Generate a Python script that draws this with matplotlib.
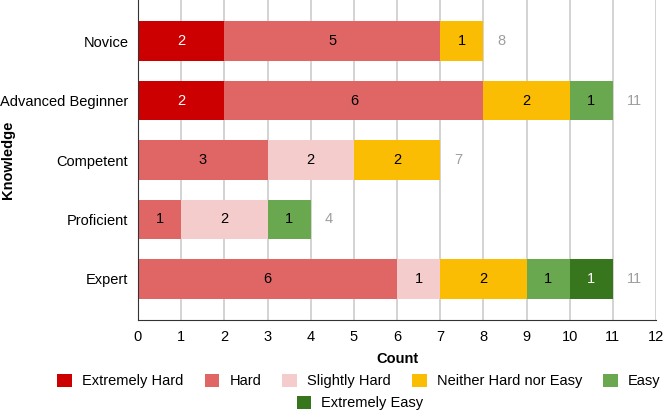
import matplotlib.pyplot as plt
import numpy as np

plt.rcParams['font.family'] = ['Liberation Sans', 'DejaVu Sans']

levels = ['Novice', 'Advanced Beginner', 'Competent', 'Proficient', 'Expert']
ratings = ['Extremely Hard', 'Hard', 'Slightly Hard', 'Neither Hard nor Easy',
           'Easy', 'Extremely Easy']
counts = {
    'Extremely Hard':        [2, 2, 0, 0, 0],
    'Hard':                  [5, 6, 3, 1, 6],
    'Slightly Hard':         [0, 0, 2, 2, 1],
    'Neither Hard nor Easy': [1, 2, 2, 0, 2],
    'Easy':                  [0, 1, 0, 1, 1],
    'Extremely Easy':        [0, 0, 0, 0, 1],
}
colors = ['#cc0000', '#e06666', '#f4cccc', '#fbbc04', '#6aa84f', '#38761d']
text_colors = ['white', 'black', 'black', 'black', 'black', 'white']

fs = 10.5
fig = plt.figure(figsize=(6.64, 4.11), dpi=100)
ax = fig.add_axes([138 / 664, 1 - 320 / 411, (656 - 138) / 664, 320 / 411])

y = np.arange(len(levels))
left = np.zeros(len(levels))
handles = []
for rating, color, tc in zip(ratings, colors, text_colors):
    vals = np.array(counts[rating])
    bars = ax.barh(y, vals, left=left, height=0.67, color=color, zorder=2,
                   label=rating)
    handles.append(bars)
    for yi, v, l in zip(y, vals, left):
        if v > 0:
            ax.text(l + v / 2, yi, str(v), ha='center', va='center',
                    color=tc, fontsize=fs, zorder=3)
    left += vals

# totals at the end of each bar
for yi, total in zip(y, left):
    ax.text(total + 0.32, yi, str(int(total)), ha='left', va='center',
            color='#9e9e9e', fontsize=fs)

ax.set_xlim(0, 12)
ax.set_ylim(4.69, -0.69)
ax.set_xticks(range(13))
ax.set_yticks(y)
ax.set_yticklabels(levels)
ax.tick_params(length=0, labelsize=fs, pad=7)
ax.grid(axis='x', color='#cccccc', linewidth=1.2, zorder=0)
ax.set_axisbelow(True)
for side in ['top', 'right']:
    ax.spines[side].set_visible(False)
ax.spines['left'].set_color('#333333')
ax.spines['bottom'].set_color('#333333')
ax.set_xlabel('Count', fontweight='bold', fontsize=fs, labelpad=6)
fig.text(8 / 664, 1 - 160 / 411, 'Knowledge', rotation=90, ha='center',
         va='center', fontweight='bold', fontsize=fs)

leg_kw = dict(frameon=False, fontsize=fs, handlelength=1.0, handleheight=1.0,
              handletextpad=0.7, columnspacing=1.45, borderaxespad=0,
              borderpad=0)
fig.legend(handles[:5], ratings[:5], ncol=5, loc='center',
           bbox_to_anchor=(359 / 664, 1 - 381 / 411), **leg_kw)
fig.legend(handles[5:], ratings[5:], ncol=1, loc='center',
           bbox_to_anchor=(360 / 664, 1 - 403 / 411), **leg_kw)

fig.savefig('out.png', dpi=100)
